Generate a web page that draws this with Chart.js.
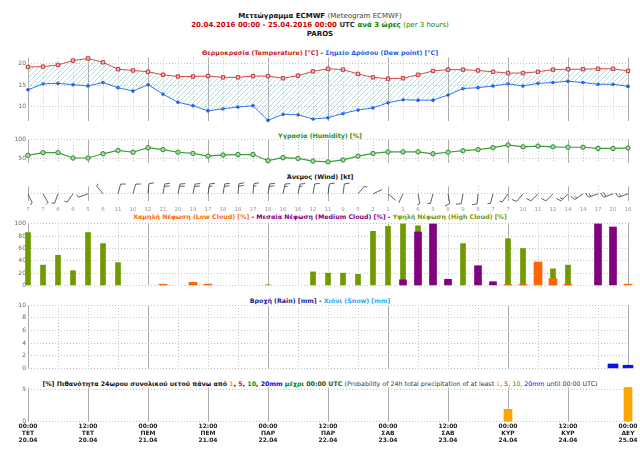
<!DOCTYPE html>
<html>
<head>
<meta charset="utf-8">
<script src="https://cdn.jsdelivr.net/npm/chart.js"></script>
<style>
  body { margin: 0; background: #fff; }
  #wrap { position: relative; width: 640px; height: 454px; overflow: hidden; font-family: 'DejaVu Sans', sans-serif; background: #fff; }
  canvas { position: absolute; left: 0; }
  .t { position: absolute; left: 0; width: 640px; text-align: center; white-space: nowrap; font-size: 6.3px; line-height: 10px; font-weight: bold; color: #111; }
  .h { font-size: 7px; }
  .n { font-weight: normal; }
</style>
</head>
<body>
<div id="wrap">
  <div class="t h" style="top:10.7px">Μετεώγραμμα ECMWF <span class="n" style="color:#444">(Meteogram ECMWF)</span></div>
  <div class="t h" style="top:19.7px"><span style="color:#cc0000">20.04.2016 00:00 - 25.04.2016 00:00</span> <span style="color:#333">UTC</span> <span style="color:#008800">ανά 3 ώρες</span> <span class="n" style="color:#008800">(per 3 hours)</span></div>
  <div class="t h" style="top:29px">PAROS</div>

  <div class="t" style="top:47.7px"><span style="color:#cc2222">Θερμοκρασία (Temperature) [°C]</span> - <span style="color:#1a5ee6">Σημείο Δρόσου (Dew point) [°C]</span></div>
  <div class="t" style="top:130.5px;color:#1e8f1e">Υγρασία (Humidity) [%]</div>
  <div class="t" style="top:172px">Άνεμος (Wind) [kt]</div>
  <div class="t" style="top:212.3px"><span style="color:#ff6a00">Χαμηλή Νέφωση (Low Cloud) [%]</span> - <span style="color:#800080">Μεσαία Νέφωση (Medium Cloud) [%]</span> - <span style="color:#779900">Υψηλή Νέφωση (High Cloud) [%]</span></div>
  <div class="t" style="top:295.7px"><span style="color:#1a1a99">Βροχή (Rain) [mm]</span> - <span style="color:#2aa6f0">Χιόνι (Snow) [mm]</span></div>
  <div class="t" style="top:379px">[%] Πιθανότητα 24ωρου συνολικού υετού πάνω από <span style="color:#ff9900">1</span>, <span style="color:#ee0000">5</span>, <span style="color:#009900">10</span>, <span style="color:#0000ee">20mm</span> <span style="color:#008800">μέχρι</span> <span style="color:#225522">00:00 UTC</span> <span class="n" style="color:#333">(Probability of 24h total precipitation of at least <span style="color:#ff9900">1</span>, <span style="color:#ee0000">5</span>, <span style="color:#009900">10</span>, <span style="color:#0000ee">20mm</span> until 00:00 UTC)</span></div>
</div>

<script>
// time axis, hours after 20.04.2016 00:00 UTC
const hours = [0,3,6,9,12,15,18,21,24,27,30,33,36,39,42,45,48,51,54,57,60,63,66,69,72,75,78,81,84,87,90,93,96,99,102,105,108,111,114,117,120];

const temperature = [19.2,19.3,19.7,20.7,21.2,20.3,18.7,18.4,18.1,17.4,17.0,17.0,17.1,16.8,16.8,17.1,17.1,16.6,17.2,18.2,18.8,18.6,17.6,16.8,16.5,16.6,17.4,18.3,18.6,18.6,18.4,18.1,17.8,17.8,18.1,18.6,18.7,18.7,18.8,18.8,18.3];
const dewPoint = [13.9,15.3,15.4,15.1,14.8,15.6,14.4,13.6,15.1,12.9,11.0,10.2,9.0,9.5,9.9,10.2,6.8,8.2,8.1,7.1,7.4,8.4,9.2,9.7,10.9,11.6,11.5,11.5,12.7,14.2,14.4,14.8,15.3,14.8,15.4,15.6,15.9,15.6,15.2,15.2,14.7];
const humidity = [59,66,66,52,52,63,72,67,79,74,67,64,57,60,61,61,45,53,51,44,42,47,57,64,68,68,68,63,67,71,74,79,86,81,83,81,80,80,77,77,78];

const windSpeed = [7,7,6,6,5,6,11,10,12,21,20,19,17,18,18,17,18,16,16,12,11,9,5,2,1,1,6,5,8,9,8,7,7,10,11,12,14,14,17,20,16];
const windDir = [155,150,200,215,250,320,15,15,5,10,12,12,10,10,5,5,10,12,12,10,8,8,40,65,130,205,170,195,170,190,185,195,215,220,225,225,225,235,250,250,250];

const lowCloud = [0,0,0,0,0,0,0,0,0,2,0,5,2,0,0,0,0,0,0,0,0,0,0,0,0,0,0,0,0,0,0,0,1.5,1.5,38,11,2,0,0,0,2];
const mediumCloud = [0,0,0,0,0,0,0,0,0,0,0,0,0,0,0,0,0,0,0,0,0,0,0,0,0,9,87,100,10,0,32,6,0,0,0,0,0,0,100,95,0];
const highCloud = [86,33,49,24,86,68,37,0,0,0,0,0,0,0,0,0,1,0,0,22,20,20,18,88,96,100,97,0,0,68,0,0,76,60,0,27,33,0,0,0,0];

const rain = [0,0,0,0,0,0,0,0,0,0,0,0,0,0,0,0,0,0,0,0,0,0,0,0,0,0,0,0,0,0,0,0,0,0,0,0,0,0,0,0.7,0.5];
const snow = [0,0,0,0,0,0,0,0,0,0,0,0,0,0,0,0,0,0,0,0,0,0,0,0,0,0,0,0,0,0,0,0,0,0,0,0,0,0,0,0,0];

const probHours = [0,24,48,72,96,120];
const prob1mm = [0,0,0,0,1.9,5.25];
const prob5mm = [0,0,0,0,0,0];
const prob10mm = [0,0,0,0,0,0];
const prob20mm = [0,0,0,0,0,0];

const timeLabels = ['00:00','12:00','00:00','12:00','00:00','12:00','00:00','12:00','00:00','12:00','00:00'];
const dayLabels = ['ΤΕΤ','ΤΕΤ','ΠΕΜ','ΠΕΜ','ΠΑΡ','ΠΑΡ','ΣΑΒ','ΣΑΒ','ΚΥΡ','ΚΥΡ','ΔΕΥ'];
const dateLabels = ['20.04','20.04','21.04','21.04','22.04','22.04','23.04','23.04','24.04','24.04','25.04'];

const tempTicks = [10, 15, 20];
const humTicks = [50, 100];
const cloudTicks = [0, 20, 40, 60, 80, 100];
const rainTicks = [0, 2, 4, 6, 8, 10];
const probTicks = [0, 5];

Chart.defaults.font.family = "'DejaVu Sans', sans-serif";
Chart.defaults.animation = false;
Chart.defaults.plugins.legend.display = false;
Chart.defaults.plugins.tooltip.enabled = false;

const SOLID = '#ababab';
const DOT = '#c4c4c4';
const wrap = document.getElementById('wrap');

const pts = (xs, ys) => xs.map((h, i) => ({ x: h, y: ys[i] }));
// empty bars are left out instead of drawn flat
const barPts = (xs, ys) => xs.map((h, i) => ({ x: h, y: ys[i] > 0 ? ys[i] : null }));

function hatch() {
  const c = document.createElement('canvas');
  c.width = 5; c.height = 5;
  const g = c.getContext('2d');
  g.strokeStyle = '#8fd0d0';
  g.lineWidth = 0.7;
  g.beginPath();
  g.moveTo(0, 5); g.lineTo(5, 0);
  g.moveTo(-1, 1); g.lineTo(1, -1);
  g.moveTo(4, 6); g.lineTo(6, 4);
  g.stroke();
  return g.createPattern(c, 'repeat');
}

function xAxis(step, dotStep, solidStep, h, ticks) {
  return {
    type: 'linear', min: 0, max: 120, offset: false,
    afterBuildTicks: s => { s.ticks = hours.filter(v => v % step === 0).map(v => ({ value: v })); },
    afterFit: s => { s.height = h; },
    ticks: Object.assign({ display: false, autoSkip: false, maxRotation: 0 }, ticks || {}),
    grid: {
      offset: false, drawTicks: false, lineWidth: 1,
      color: c => {
        const v = c.tick.value;
        if (v % solidStep === 0) return SOLID;
        if (v % dotStep === 0) return DOT;
        return 'rgba(0,0,0,0)';
      }
    },
    border: { display: false, dash: c => (c.tick && c.tick.value % solidStep !== 0) ? [1, 2] : [] }
  };
}

function yAxis(min, max, vals, labels) {
  return {
    min, max,
    afterBuildTicks: s => { s.ticks = vals.map(v => ({ value: v })); },
    afterFit: s => { s.width = 28; },
    ticks: { display: labels, padding: 2, color: '#666', font: { size: 6 } },
    grid: { color: DOT, drawTicks: false },
    border: { display: false, dash: [1, 2] }
  };
}

function panel(top, bottom, xh, config) {
  const cTop = Math.floor(top) - 6;
  const cH = Math.ceil(bottom + xh + 3) - cTop;
  const cv = document.createElement('canvas');
  cv.width = 640; cv.height = cH;
  cv.style.top = cTop + 'px';
  wrap.appendChild(cv);
  config.options.responsive = false;
  config.options.layout = { padding: { left: 0, right: 12, top: top - cTop, bottom: cH - (bottom - cTop) - xh } };
  return new Chart(cv, config);
}

function drawBarb(ctx, x, y, speed, dir) {
  const a = dir * Math.PI / 180;
  const ux = Math.sin(a), uy = -Math.cos(a);
  const px = -uy, py = ux;
  const L = 10;
  const ex = x + ux * L, ey = y + uy * L;
  ctx.beginPath();
  ctx.moveTo(x, y);
  ctx.lineTo(ex, ey);
  let r = Math.round(speed / 5) * 5;
  let pos = 0;
  while (r >= 10) {
    const bx = ex - ux * pos, by = ey - uy * pos;
    ctx.moveTo(bx, by);
    ctx.lineTo(bx + px * 5 + ux * 1.5, by + py * 5 + uy * 1.5);
    pos += 2.5; r -= 10;
  }
  if (r >= 5) {
    const bx = ex - ux * pos, by = ey - uy * pos;
    ctx.moveTo(bx, by);
    ctx.lineTo(bx + px * 2.8 + ux * 0.8, by + py * 2.8 + uy * 0.8);
  }
  ctx.stroke();
}

const barbs = {
  id: 'barbs',
  afterDatasetsDraw(chart) {
    const ctx = chart.ctx;
    ctx.save();
    ctx.strokeStyle = '#444';
    ctx.lineWidth = 0.85;
    chart.getDatasetMeta(0).data.forEach((p, i) => drawBarb(ctx, p.x, p.y, windSpeed[i], windDir[i]));
    ctx.restore();
  }
};

// temperature / dew point
panel(57.5, 123.3, 0, {
  type: 'line',
  data: { datasets: [
    { data: pts(hours, temperature), borderColor: '#d24b4b', borderWidth: 1, tension: 0,
      pointStyle: 'rect', pointRadius: 2.4, pointBackgroundColor: '#f4b8b8', pointBorderColor: '#c23a3a', pointBorderWidth: 1,
      fill: '+1', backgroundColor: hatch(), clip: false },
    { data: pts(hours, dewPoint), borderColor: '#2f6fe6', borderWidth: 1, tension: 0,
      pointRadius: 1.8, pointBackgroundColor: '#1f5fe0', pointBorderWidth: 0, fill: false, clip: false }
  ]},
  options: { scales: { x: xAxis(3, 3, 12, 0), y: yAxis(6.55, 21.42, tempTicks, true) } }
});

// humidity
panel(139, 165.5, 0, {
  type: 'line',
  data: { datasets: [
    { data: pts(hours, humidity), borderColor: '#3a9e3a', borderWidth: 1.2, tension: 0,
      pointRadius: 2.2, pointBackgroundColor: '#a3dba3', pointBorderColor: '#2e8b2e', pointBorderWidth: 1, clip: false }
  ]},
  options: { scales: { x: xAxis(3, 3, 12, 0), y: yAxis(38, 101.5, humTicks, true) } }
});

// wind
panel(186.3, 201.3, 14, {
  type: 'line',
  data: { datasets: [
    { data: hours.map(h => ({ x: h, y: 0 })), showLine: false, pointRadius: 0 }
  ]},
  options: { scales: {
    x: xAxis(3, 6, 12, 14, { display: true, padding: 4.9, color: '#999', font: { size: 5.5 },
      callback: (v, i) => windSpeed[i] }),
    y: yAxis(-1, 1, [0], false)
  } },
  plugins: [barbs]
});

// cloud cover
panel(222.7, 287.3, 0, {
  type: 'bar',
  data: { datasets: [
    { data: barPts(hours, lowCloud), backgroundColor: '#ff6600', barThickness: 8, grouped: false, order: 1, clip: false },
    { data: barPts(hours, mediumCloud), backgroundColor: '#800080', barThickness: 7, grouped: false, order: 2, clip: false },
    { data: barPts(hours, highCloud), backgroundColor: '#6f9a00', barThickness: 5, grouped: false, order: 3, clip: false }
  ]},
  options: { scales: { x: xAxis(6, 6, 24, 0), y: yAxis(0, 102, cloudTicks, true) } }
});

// rain / snow
panel(305, 371, 0, {
  type: 'bar',
  data: { datasets: [
    { data: barPts(hours, rain), backgroundColor: '#0a14e6', barThickness: 10, grouped: false, clip: false },
    { data: barPts(hours, snow), backgroundColor: '#2aa6f0', barThickness: 10, grouped: false, clip: false }
  ]},
  options: { scales: { x: xAxis(6, 6, 24, 0), y: yAxis(0, 10, rainTicks, true) } }
});

// 24h precipitation probability
panel(387.5, 421.7, 28, {
  type: 'bar',
  data: { datasets: [
    { data: barPts(probHours, prob1mm), backgroundColor: '#ffa500', barThickness: 8, grouped: false, clip: false },
    { data: barPts(probHours, prob5mm), backgroundColor: '#ff0000', barThickness: 8, grouped: false, clip: false },
    { data: barPts(probHours, prob10mm), backgroundColor: '#009900', barThickness: 8, grouped: false, clip: false },
    { data: barPts(probHours, prob20mm), backgroundColor: '#0000ff', barThickness: 8, grouped: false, clip: false }
  ]},
  options: { scales: {
    x: xAxis(12, 12, 12, 28, { display: true, padding: 1.5, color: '#222', font: { size: 6, weight: 'bold', lineHeight: 1.15 },
      callback: (v, i) => [timeLabels[i], dayLabels[i], dateLabels[i]] }),
    y: yAxis(0, 5.25, probTicks, true)
  } }
});
</script>
</body>
</html>
